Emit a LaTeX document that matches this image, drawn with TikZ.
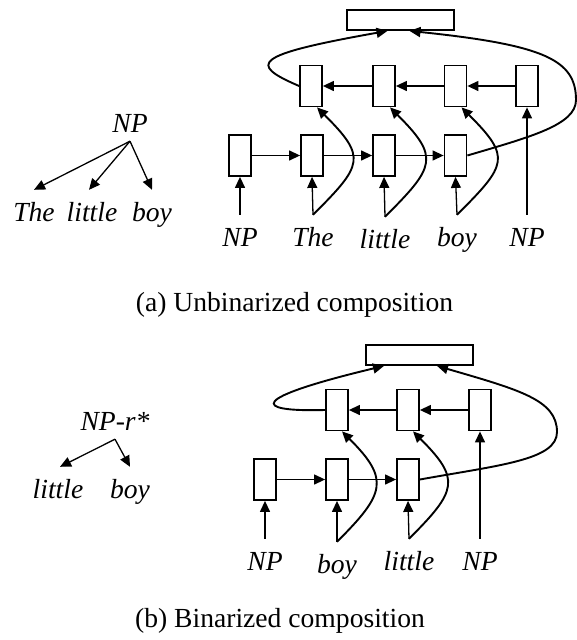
\documentclass[tikz,border=0pt]{standalone}
\usepackage{fontspec}
\setmainfont{Liberation Serif}
\usetikzlibrary{arrows.meta,calc}
\begin{document}
\begin{tikzpicture}[x=1pt,y=-1pt,
  >={Triangle[length=11pt,width=10pt]},
  cell/.style={draw,line width=1.8pt,minimum width=22pt,minimum height=41pt,inner sep=0pt},
  topbox/.style={draw,line width=1.8pt,minimum width=107pt,minimum height=20pt,inner sep=0pt},
  word/.style={font=\fontsize{27.6}{33}\selectfont\itshape,inner xsep=0pt,inner ysep=12pt,text height=19pt,text depth=6pt,anchor=base},
  root/.style={word,inner ysep=3pt},
  captext/.style={font=\fontsize{27.6}{33}\selectfont,inner sep=0pt,anchor=base},
  tharrow/.style={->,line width=1.3pt},
  curvearrow/.style={->,line width=1.9pt}]
\useasboundingbox (0,0) rectangle (577,640);

% ---------------- (a) ----------------
\node[topbox] (Ta) at (400.5,20) {};
\node[cell] (ua1) at (311,86) {};
\node[cell] (ua2) at (384,86) {};
\node[cell] (ua3) at (455.5,86) {};
\node[cell] (ua4) at (527,86) {};
\node[cell] (la1) at (240,155.5) {};
\node[cell] (la2) at (312,155.5) {};
\node[cell] (la3) at (384,155.5) {};
\node[cell] (la4) at (455.5,155.5) {};
\node[word] (wa1) at (240,246) {NP};
\node[word] (wa2) at (313,246) {The};
\node[word] (wa3) at (385,248) {little};
\node[word] (wa4) at (457,246) {boy};
\node[word] (wa5) at (527,246) {NP};

\node[root] (ra) at (130,132) {NP};
\node[word] (ca1) at (34,221) {The};
\node[word] (ca2) at (92,221) {little};
\node[word] (ca3) at (152,221) {boy};
\draw[tharrow] (ra.south) -- (ca1.north);
\draw[tharrow] (ra.south) -- ($(ca2.north)+(-3,0)$);
\draw[tharrow] (ra.south) -- (ca3.north);

\node[captext] (capa) at (294.5,311) {(a) Unbinarized composition};

\draw[tharrow] (la1.east) -- (la2.west);
\draw[tharrow] (la2.east) -- (la3.west);
\draw[tharrow] (la3.east) -- (la4.west);
\draw[tharrow] (ua4.west) -- (ua3.east);
\draw[tharrow] (ua3.west) -- (ua2.east);
\draw[tharrow] (ua2.west) -- (ua1.east);
\draw[tharrow] (wa1.north) -- (la1.south);
\draw[tharrow] (wa2.north) -- (la2.south);
\draw[tharrow] (wa3.north) -- (la3.south);
\draw[tharrow] (wa4.north) -- (la4.south);
\draw[tharrow] (wa5.north) -- (ua4.south);
\draw[curvearrow] (wa2.north) .. controls ($(wa2.north)+(50,-50)$) and ($(ua1.south)+(56,50)$) .. ($(ua1.south)+(6,0)$);
\draw[curvearrow] (wa3.north) .. controls ($(wa3.north)+(50,-50)$) and ($(ua2.south)+(56,50)$) .. ($(ua2.south)+(6,0)$);
\draw[curvearrow] (wa4.north) .. controls ($(wa4.north)+(50,-50)$) and ($(ua3.south)+(56,50)$) .. ($(ua3.south)+(6,0)$);
\draw[curvearrow] (ua1.west) .. controls (248,64) and (252,55) .. ($(Ta.south)+(-13,0)$);
\draw[curvearrow] (la4.east) .. controls (530,137) and (576,125) .. (576,100) .. controls (576,60) and (545,45) .. ($(Ta.south)+(9,0)$);

% ---------------- (b) ----------------
\node[topbox] (Tb) at (419.5,355) {};
\node[cell] (ub1) at (337,410) {};
\node[cell] (ub2) at (408,410) {};
\node[cell] (ub3) at (480,410) {};
\node[cell] (lb1) at (265,479.5) {};
\node[cell] (lb2) at (337,479.5) {};
\node[cell] (lb3) at (408,479.5) {};
\node[word] (wb1) at (265,570) {NP};
\node[word] (wb2) at (337,573) {boy};
\node[word] (wb3) at (409,570) {little};
\node[word] (wb4) at (480,570) {NP};

\node[root] (rb) at (115,430) {NP-r*};
\node[word] (cb1) at (58,498) {little};
\node[word] (cb2) at (130,498) {boy};
\draw[tharrow] (rb.south) -- ($(cb1.north)+(2,0)$);
\draw[tharrow] (rb.south) -- (cb2.north);

\node[captext] (capb) at (280,627) {(b) Binarized composition};

\draw[tharrow] (lb1.east) -- (lb2.west);
\draw[tharrow] (lb2.east) -- (lb3.west);
\draw[tharrow] (ub3.west) -- (ub2.east);
\draw[tharrow] (ub2.west) -- (ub1.east);
\draw[tharrow] (wb1.north) -- (lb1.south);
\draw[tharrow] (wb2.north) -- (lb2.south);
\draw[tharrow] (wb3.north) -- (lb3.south);
\draw[tharrow] (wb4.north) -- (ub3.south);
\draw[curvearrow] (wb2.north) .. controls ($(wb2.north)+(48,-48)$) and ($(ub1.south)+(53,48)$) .. ($(ub1.south)+(5,0)$);
\draw[curvearrow] (wb3.north) .. controls ($(wb3.north)+(48,-48)$) and ($(ub2.south)+(53,48)$) .. ($(ub2.south)+(5,0)$);
\draw[curvearrow] (ub1.west) .. controls (250,412) and (250,398) .. ($(Tb.south)+(-35.5,0)$);
\draw[curvearrow] (lb3.east) .. controls (500,465) and (557,460) .. (557,432) .. controls (557,400) and (520,390) .. ($(Tb.south)+(17.5,0)$);
\end{tikzpicture}
\end{document}
